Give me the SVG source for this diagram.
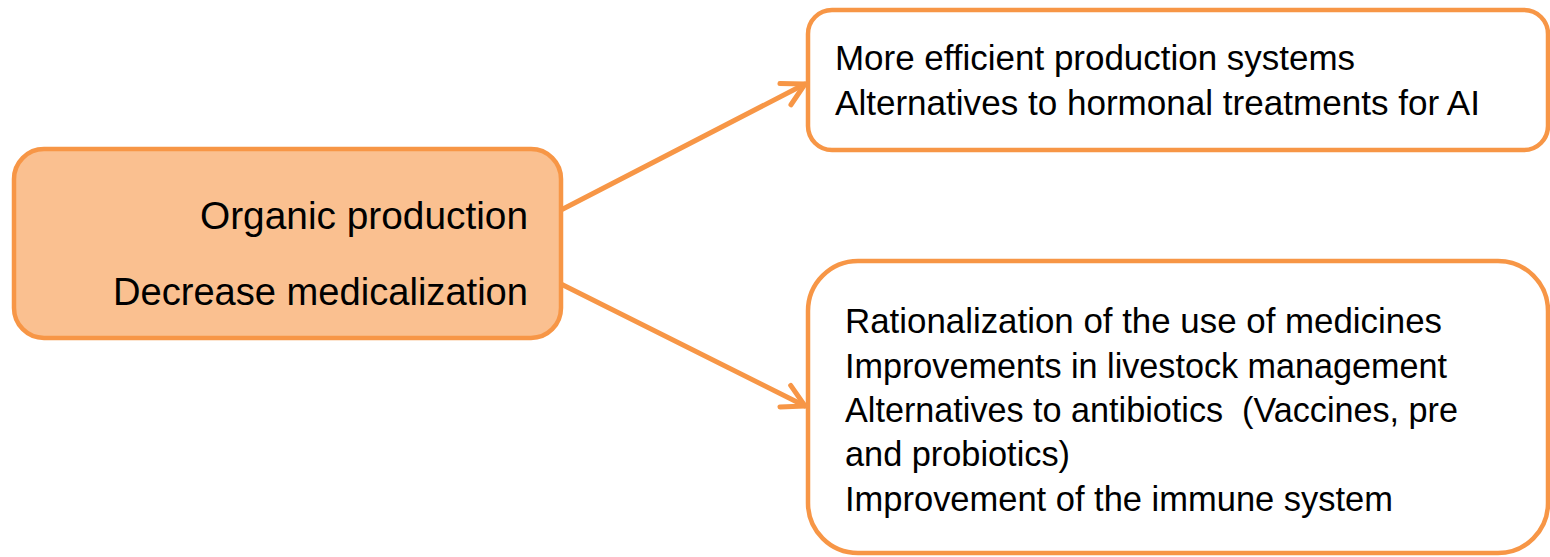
<svg xmlns="http://www.w3.org/2000/svg" width="1550" height="557" viewBox="0 0 1550 557">
<style>
.box{stroke:#F79646;stroke-width:4.5}
.main{fill:#FAC090}
.sub{fill:#FFFFFF}
text{font-family:"Liberation Sans",Arial,sans-serif;fill:#000;white-space:pre}
.t38{font-size:38px}
.t35{font-size:35px}
.conn{stroke:#F79646;stroke-width:5;fill:none;stroke-linecap:round}
</style>
<defs>
<marker id="arrow" markerUnits="userSpaceOnUse" markerWidth="40" markerHeight="40" refX="0" refY="0" viewBox="-30 -20 40 40" orient="auto" overflow="visible">
<path d="M-22,-12 L0,0 L-22,12" fill="none" stroke="#F79646" stroke-width="5" stroke-linecap="round" stroke-linejoin="round"/>
</marker>
</defs>
<rect width="1550" height="557" fill="#FFFFFF"/>
<g id="connectors">
<line class="conn" x1="561" y1="210" x2="805" y2="84" marker-end="url(#arrow)"/>
<line class="conn" x1="561" y1="284" x2="805" y2="406" marker-end="url(#arrow)"/>
</g>
<g id="node-main">
<rect class="box main" x="14" y="149" width="547" height="189" rx="30"/>
<text class="t38" x="528" y="229" text-anchor="end" textLength="328" lengthAdjust="spacingAndGlyphs">Organic production</text>
<text class="t38" x="528" y="305" text-anchor="end" textLength="415" lengthAdjust="spacingAndGlyphs">Decrease medicalization</text>
</g>
<g id="node-top">
<rect class="box sub" x="808" y="10" width="740" height="140" rx="24"/>
<text class="t35" x="835" y="70" textLength="520" lengthAdjust="spacingAndGlyphs">More efficient production systems</text>
<text class="t35" x="835" y="115" textLength="645" lengthAdjust="spacingAndGlyphs">Alternatives to hormonal treatments for AI</text>
</g>
<g id="node-bottom">
<rect class="box sub" x="808" y="261" width="740" height="292" rx="50"/>
<text class="t35" x="845" y="333" textLength="597" lengthAdjust="spacingAndGlyphs">Rationalization of the use of medicines</text>
<text class="t35" x="845" y="378" textLength="602" lengthAdjust="spacingAndGlyphs">Improvements in livestock management</text>
<text class="t35" x="845" y="422" textLength="613" lengthAdjust="spacingAndGlyphs">Alternatives to antibiotics  (Vaccines, pre</text>
<text class="t35" x="845" y="466" textLength="225" lengthAdjust="spacingAndGlyphs">and probiotics)</text>
<text class="t35" x="845" y="511" textLength="548" lengthAdjust="spacingAndGlyphs">Improvement of the immune system</text>
</g>
</svg>
